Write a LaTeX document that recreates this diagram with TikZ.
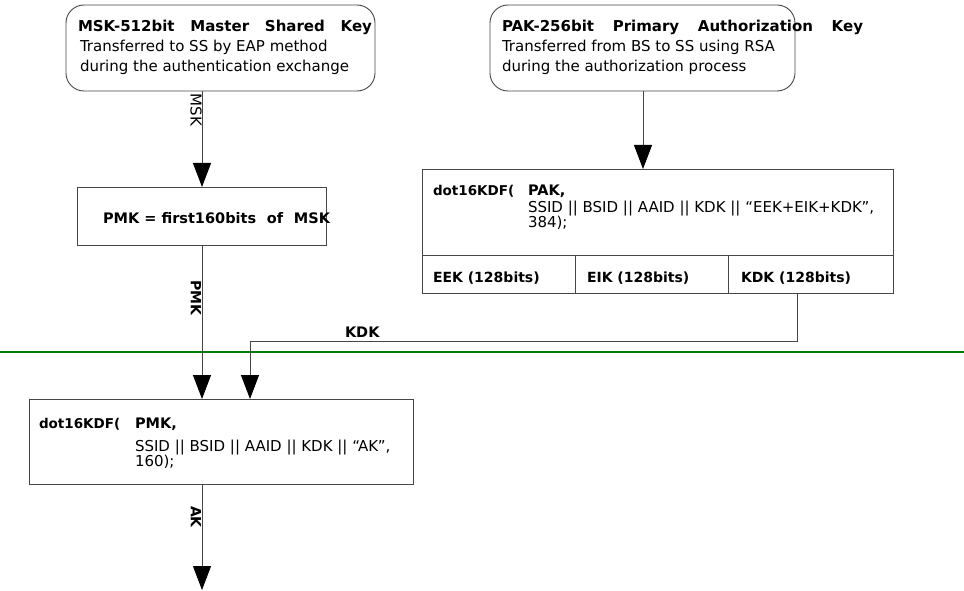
\documentclass[tikz,border=0pt]{standalone}
\usepackage{fontspec}
\setmainfont{DejaVu Sans}
\usetikzlibrary{arrows.meta}
\definecolor{divgreen}{RGB}{0,128,0}
\definecolor{linegray}{RGB}{70,70,70}
\begin{document}
\begin{tikzpicture}[x=1pt,y=-1pt,
  every node/.style={inner sep=0pt, outer sep=0pt},
  frame/.style={draw=linegray, line width=0.9pt, rectangle},
  keybox/.style={frame, rounded corners=18pt},
  txt/.style={anchor=base west, font=\fontsize{15}{18}\selectfont},
  btxt/.style={anchor=base west, font=\fontsize{14.5}{18}\selectfont\bfseries},
  htxt/.style={anchor=base west, font=\fontsize{15}{18}\selectfont\bfseries},
  conn/.style={draw=linegray, line width=0.9pt},
  arr/.style={conn, -{Triangle[length=24pt,width=18pt,color=black,fill=black]}},
  lbl/.style={font=\fontsize{15}{16}\selectfont, rotate=-90},
  blbl/.style={font=\fontsize{14}{16}\selectfont\bfseries, rotate=-90},
]
\useasboundingbox (0,0) rectangle (964,591);

% boxes
\node[keybox, minimum width=309pt, minimum height=86pt] (msk) at (220.5,48) {};
\node[keybox, minimum width=305pt, minimum height=86pt] (pak) at (642.5,48) {};
\node[frame, minimum width=249pt, minimum height=58pt] (pmk) at (201.5,216) {};
\node[frame, minimum width=471pt, minimum height=86pt] (pakf) at (657.5,212) {};
\node[frame, minimum width=153pt, minimum height=38pt] (eek) at (498.5,274) {};
\node[frame, minimum width=153pt, minimum height=38pt] (eik) at (651.5,274) {};
\node[frame, minimum width=165pt, minimum height=38pt] (kdkc) at (810.5,274) {};
\node[frame, minimum width=384pt, minimum height=85pt] (ak) at (221,441.5) {};

% texts
\node[htxt] (mskh) at (78,32) {\makebox[294pt][s]{MSK-512bit\hfill Master\hfill Shared\hfill Key}};
\node[txt] (msk1) at (80,52) {Transferred to SS by EAP method};
\node[txt] (msk2) at (80,72) {during the authentication exchange};
\node[htxt] (pakh) at (502,32) {\makebox[361pt][s]{PAK-256bit\hfill Primary\hfill Authorization\hfill Key}};
\node[txt] (pak1) at (502,52) {Transferred from BS to SS using RSA};
\node[txt] (pak2) at (502,72) {during the authorization process};
\node[btxt] (pmkt) at (103,223) {\makebox[227pt][s]{PMK = first160bits\hfill of\hfill MSK}};
\node[btxt, font=\fontsize{13.5}{16}\selectfont\bfseries] (pkdf) at (433,195) {dot16KDF(};
\node[btxt] (pkdf1) at (528,195) {PAK,};
\node[txt] (pkdf2) at (528,212) {SSID || BSID || AAID || KDK || “EEK+EIK+KDK”,};
\node[txt] (pkdf3) at (528,227) {384);};
\node[btxt, font=\fontsize{14}{16}\selectfont\bfseries] (eekt) at (433,282) {EEK (128bits)};
\node[btxt, font=\fontsize{14}{16}\selectfont\bfseries] (eikt) at (587,282) {EIK (128bits)};
\node[btxt, font=\fontsize{14}{16}\selectfont\bfseries] (kdkt) at (741,282) {KDK (128bits)};
\node[btxt, font=\fontsize{13.5}{16}\selectfont\bfseries] (akdf) at (39,428) {dot16KDF(};
\node[btxt] (akdf1) at (135,428) {PMK,};
\node[txt] (akdf2) at (135,451) {SSID || BSID || AAID || KDK || “AK”,};
\node[txt] (akdf3) at (135,466) {160);};

% divider
\coordinate (gl) at (0,352);
\coordinate (gr) at (964,352);
\draw[divgreen, line width=1.8pt] (gl) -- (gr);

% connectors
\coordinate (xa) at (202,0);
\coordinate (xb) at (643,0);
\coordinate (xk) at (797,0);
\coordinate (kturn) at (250,341);
\coordinate (akend) at (202,590);
\draw[arr] (msk.south -| xa) -- (pmk.north -| xa);
\draw[arr] (pmk.south -| xa) -- (ak.north -| xa);
\draw[arr] (pak.south -| xb) -- (pakf.north -| xb);
\draw[arr] (kdkc.south -| xk) |- (kturn) -- (ak.north -| kturn);
\draw[arr] (ak.south -| xa) -- (akend);

% connector labels
\node[lbl] (lmsk) at (196,110) {MSK};
\node[blbl] (lpmk) at (196,298) {PMK};
\node[blbl] (lak) at (196,517) {AK};
\node[btxt] (lkdk) at (345,337) {KDK};
\end{tikzpicture}
\end{document}
